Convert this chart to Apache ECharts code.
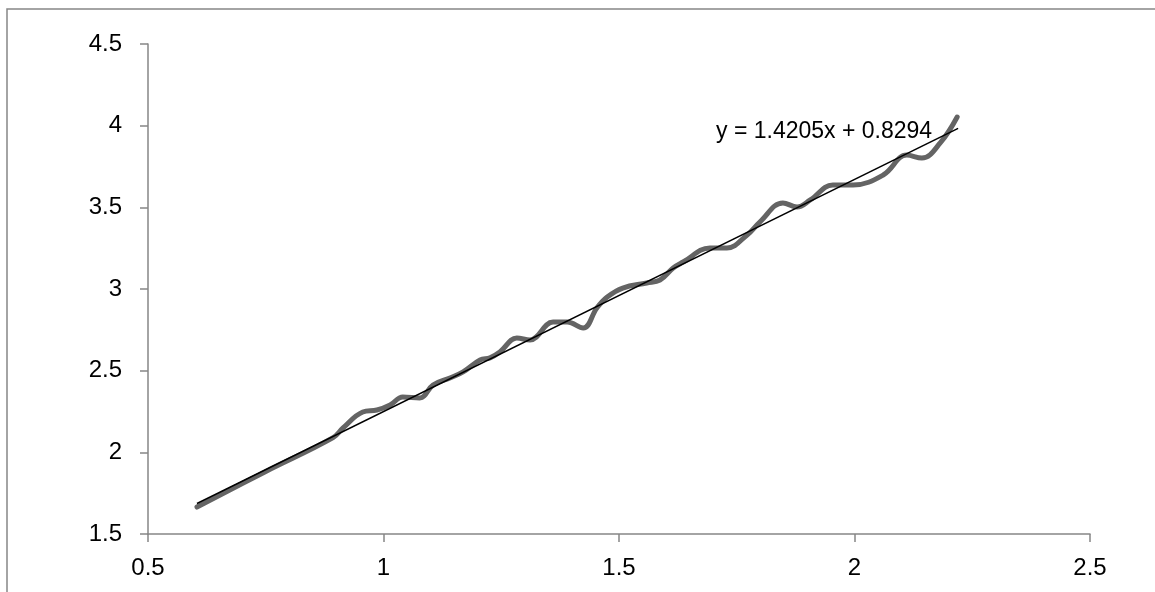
<!DOCTYPE html>
<html>
<head>
<meta charset="utf-8">
<script src="https://cdn.jsdelivr.net/npm/echarts@6/dist/echarts.min.js"></script>
<style>
  html, body { margin: 0; padding: 0; background: #fff; }
  #chart { width: 1155px; height: 592px; }
</style>
</head>
<body>
<div id="chart"></div>
<script>
const measured = [
  [0.604, 1.665], [0.748, 1.880], [0.893, 2.090], [0.914, 2.149],
  [0.956, 2.247], [0.986, 2.259], [1.014, 2.290], [1.041, 2.339],
  [1.077, 2.333], [1.105, 2.412], [1.141, 2.455], [1.169, 2.492],
  [1.205, 2.565], [1.226, 2.578], [1.247, 2.614], [1.283, 2.700],
  [1.311, 2.688], [1.360, 2.798], [1.390, 2.798], [1.424, 2.761],
  [1.453, 2.884], [1.475, 2.951], [1.508, 3.006], [1.559, 3.037],
  [1.587, 3.055], [1.615, 3.129], [1.636, 3.165], [1.693, 3.251],
  [1.729, 3.251], [1.772, 3.331], [1.799, 3.410], [1.848, 3.527],
  [1.878, 3.502], [1.906, 3.545], [1.954, 3.637], [1.997, 3.637],
  [2.061, 3.698], [2.111, 3.820], [2.143, 3.802], [2.182, 3.894],
  [2.218, 4.053],
]

// linear trendline end points
const trend = [[0.604, 1.687], [2.220, 3.983]]
const trendLabel = 'y = 1.4205x + 0.8294'

const xTicks = [0.5, 1, 1.5, 2, 2.5]
const yTicks = [1.5, 2, 2.5, 3, 3.5, 4, 4.5]

const chart = echarts.init(document.getElementById('chart'))
const font = '"Liberation Sans", Arial, sans-serif'
const axisGray = '#868686'

chart.setOption({
  animation: false,
  graphic: [
    {
      type: 'rect',
      shape: { x: 7, y: 9, width: 1300, height: 800 },
      style: { fill: 'none', stroke: axisGray, lineWidth: 1.5 },
      silent: true,
    },
  ],
  grid: { left: 148, top: 44, right: 65, bottom: 58 },
  xAxis: {
    type: 'value',
    min: xTicks[0],
    max: xTicks[xTicks.length - 1],
    interval: 0.5,
    splitLine: { show: false },
    axisLine: { lineStyle: { color: axisGray, width: 1.5 } },
    axisTick: { show: true, length: 8, lineStyle: { color: axisGray, width: 1.5 } },
    axisLabel: { color: '#000', fontFamily: font, fontSize: 24, margin: 22 },
  },
  yAxis: {
    type: 'value',
    min: yTicks[0],
    max: yTicks[yTicks.length - 1],
    interval: 0.5,
    splitLine: { show: false },
    axisLine: { show: true, lineStyle: { color: axisGray, width: 1.5 } },
    axisTick: { show: true, length: 8, lineStyle: { color: axisGray, width: 1.5 } },
    axisLabel: { color: '#000', fontFamily: font, fontSize: 24, margin: 26 },
  },
  series: [
    {
      type: 'line',
      data: measured,
      smooth: 0.4,
      showSymbol: false,
      lineStyle: { color: '#646464', width: 5, cap: 'round' },
    },
    {
      type: 'line',
      data: trend.map((p, i) => ({
        value: p,
        label: i === 1
          ? {
              show: true,
              formatter: trendLabel,
              position: 'left',
              distance: 26,
              offset: [0, 3],
              color: '#000',
              fontFamily: font,
              fontSize: 23,
            }
          : { show: false },
      })),
      showSymbol: true,
      symbol: 'circle',
      symbolSize: 0,
      itemStyle: { color: '#000' },
      lineStyle: { color: '#000', width: 1.5 },
      z: 3,
    },
  ],
})
</script>
</body>
</html>
